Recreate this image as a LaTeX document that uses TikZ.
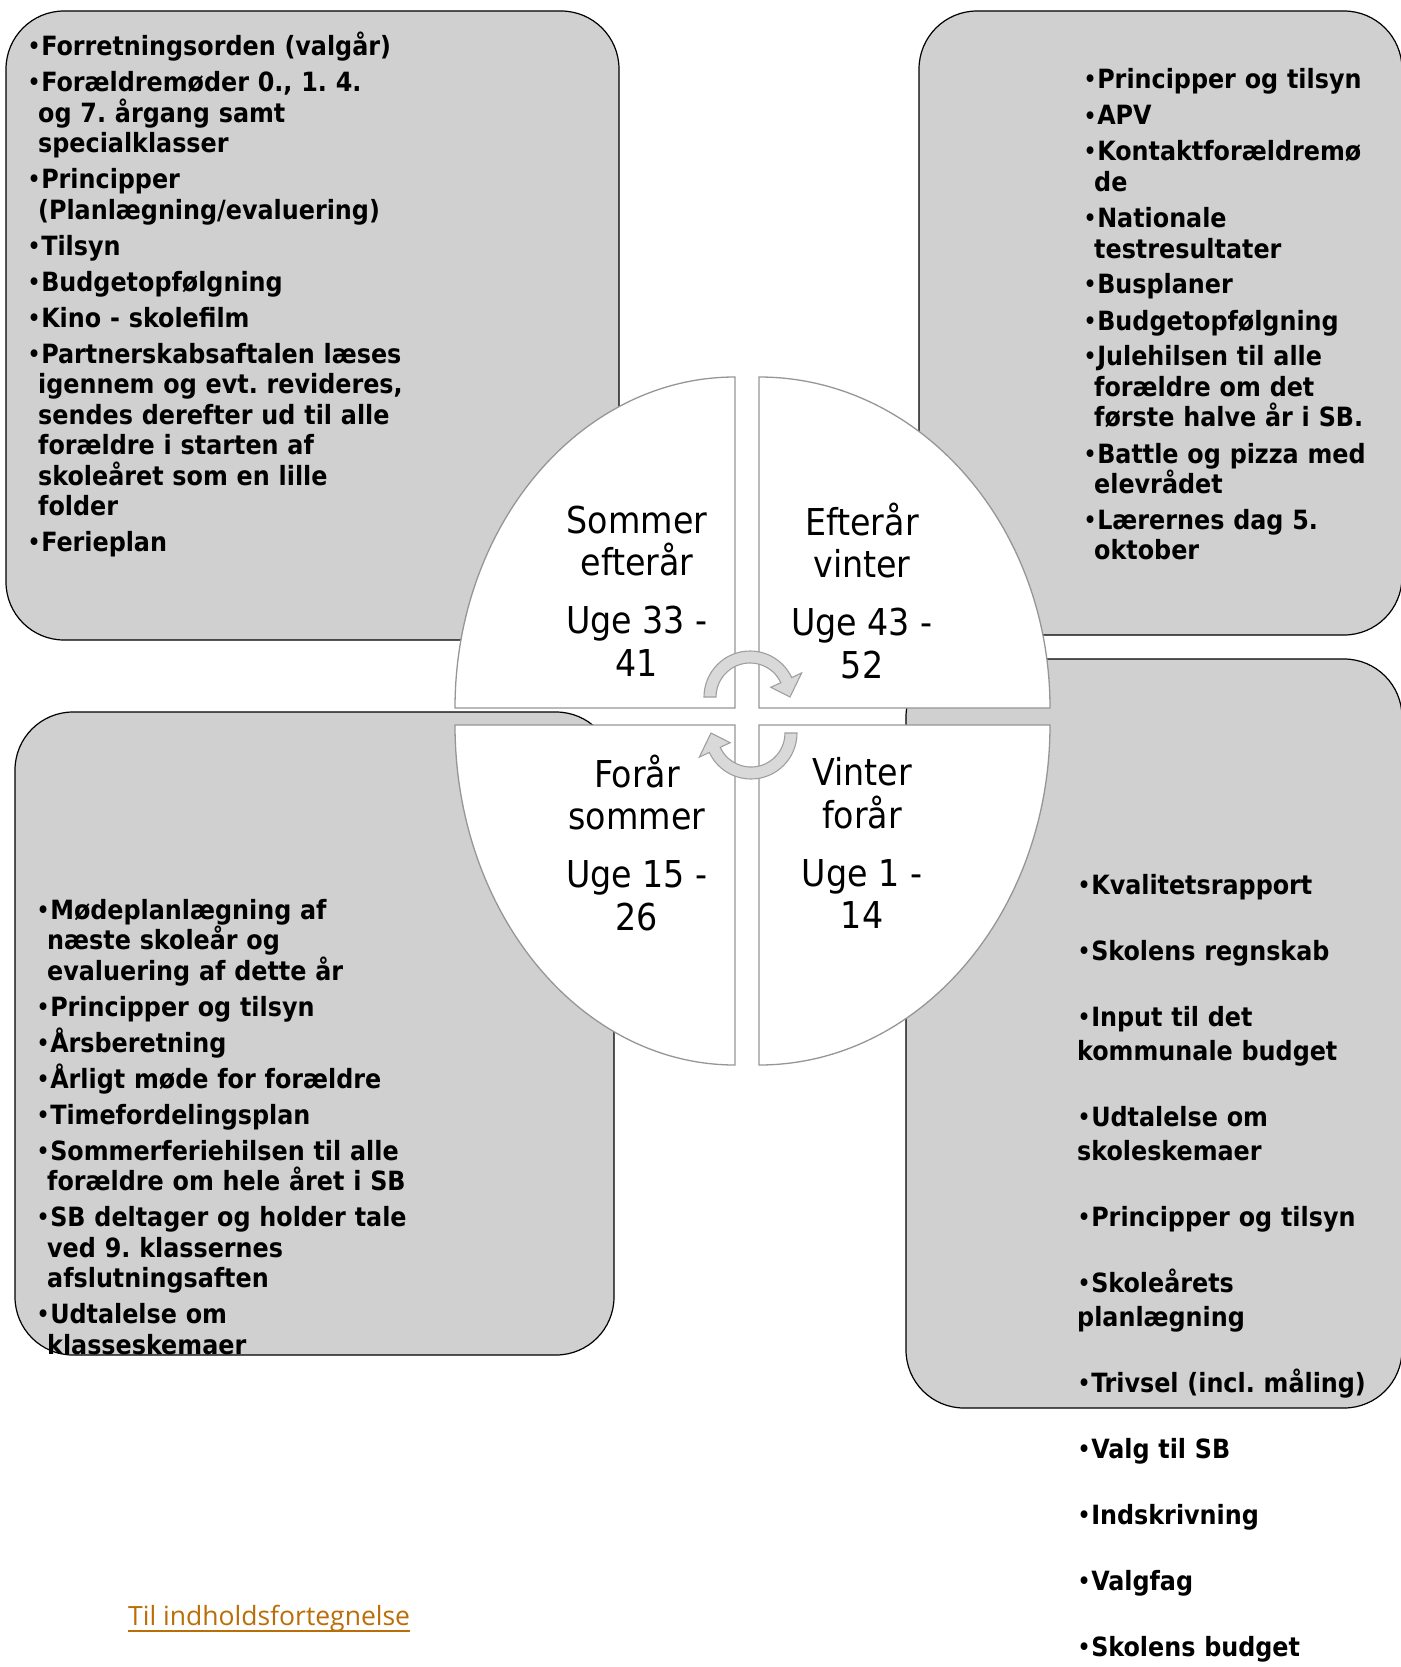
\documentclass[tikz,border=0pt]{standalone}
\usepackage{fontspec}
\setmainfont{DejaVu Sans Condensed}
\newfontfamily\linkfont{Open Sans}
\frenchspacing
\definecolor{boxgray}{RGB}{208,208,208}
\definecolor{quadline}{RGB}{150,150,150}
\definecolor{linkorange}{RGB}{186,110,8}
\newcommand{\listsetup}[1]{\setlength{\parskip}{#1}\let\\\newline}
\newcommand{\bitem}[1]{\hangindent=11pt\hangafter=1\noindent{\mdseries•}#1\par}
\newcommand{\flatitem}[1]{\noindent{\mdseries•}#1\par}
\tikzset{
  infobox/.style={draw=black, fill=boxgray, line width=1.2pt, rounded corners=58pt},
  quarter/.style={draw=quadline, fill=white, line width=1.3pt},
  cyclearrow/.style={draw=gray!75, fill=gray!30, line width=1.1pt},
  season/.style={inner sep=0pt, align=center, font=\fontsize{37}{42.5}\selectfont},
  tasklist/.style={inner sep=0pt, anchor=base west, text width=#1, font=\fontsize{26.5}{30.5}\selectfont\bfseries},
  linktext/.style={inner sep=0pt, anchor=base west, text=linkorange, font=\linkfont\fontsize{26.5}{31}\selectfont}
}
\begin{document}
\begin{tikzpicture}[x=1pt, y=-1pt]
\useasboundingbox (0,0) rectangle (1400,1667);
\draw[infobox] (6,11) rectangle (619,640);
\draw[infobox] (919,11) rectangle (1402,635);
\draw[infobox] (15,712) rectangle (614,1355);
\draw[infobox] (906,659) rectangle (1402,1408);
\draw[quarter] (735,708) -- (735,377) arc[start angle=270, end angle=180, x radius=280, y radius=331] -- cycle;
\draw[quarter] (759,708) -- (759,377) arc[start angle=270, end angle=360, x radius=291, y radius=331] -- cycle;
\draw[quarter] (735,725) -- (735,1065) arc[start angle=90, end angle=180, x radius=280, y radius=340] -- cycle;
\draw[quarter] (759,725) -- (759,1065) arc[start angle=90, end angle=0, x radius=291, y radius=340] -- cycle;
\begin{scope}[shift={(750,697)}, y=1pt]
\filldraw[cyclearrow] (180:46) arc[start angle=180, end angle=25, radius=46] -- (25:57) -- (0:40) -- (25:23) -- (25:34) arc[start angle=25, end angle=180, radius=34] -- cycle;
\end{scope}
\begin{scope}[shift={(751,733)}, rotate=180, y=1pt]
\filldraw[cyclearrow] (180:46) arc[start angle=180, end angle=25, radius=46] -- (25:57) -- (0:40) -- (25:23) -- (25:34) arc[start angle=25, end angle=180, radius=34] -- cycle;
\end{scope}
\node[season] (Q1) at (637,591) {Sommer\\efterår\\[15.5pt]Uge 33 -\\41};
\node[season] (Q2) at (862,591) {Efterår\\vinter\\[15.5pt]Uge 43 -\\52};
\node[season] (Q3) at (637,843) {Forår\\sommer\\[15.5pt]Uge 15 -\\26};
\node[season] (Q4) at (862,843) {Vinter\\forår\\[15.5pt]Uge 1 -\\14};
\node[tasklist=590pt] (L1) at (27,56) {\listsetup{5.5pt}%
\bitem{Forretningsorden (valgår)}
\bitem{Forældremøder 0., 1. 4.\\og 7. årgang samt\\specialklasser}
\bitem{Principper\\(Planlægning/evaluering)}
\bitem{Tilsyn}
\bitem{Budgetopfølgning}
\bitem{Kino - skolefilm}
\bitem{Partnerskabsaftalen læses\\igennem og evt. revideres,\\sendes derefter ud til alle\\forældre i starten af\\skoleåret som en lille\\folder}
\bitem{Ferieplan}};
\node[tasklist=400pt] (L2) at (1083,89) {\listsetup{5.5pt}%
\bitem{Principper og tilsyn}
\bitem{APV}
\bitem{Kontaktforældremø\\de}
\bitem{Nationale\\testresultater}
\bitem{Busplaner}
\bitem{Budgetopfølgning}
\bitem{Julehilsen til alle\\forældre om det\\første halve år i SB.}
\bitem{Battle og pizza med\\elevrådet}
\bitem{Lærernes dag 5.\\oktober}};
\node[tasklist=590pt] (L3) at (36,919) {\listsetup{5.5pt}%
\bitem{Mødeplanlægning af\\næste skoleår og\\evaluering af dette år}
\bitem{Principper og tilsyn}
\bitem{Årsberetning}
\bitem{Årligt møde for forældre}
\bitem{Timefordelingsplan}
\bitem{Sommerferiehilsen til alle\\forældre om hele året i SB}
\bitem{SB deltager og holder tale\\ved 9. klassernes\\afslutningsaften}
\bitem{Udtalelse om\\klasseskemaer}};
\node[tasklist=400pt, font=\fontsize{26.5}{34}\selectfont\bfseries] (L4) at (1077,894) {\listsetup{32pt}%
\flatitem{Kvalitetsrapport}
\flatitem{Skolens regnskab}
\flatitem{Input til det\\kommunale budget}
\flatitem{Udtalelse om\\skoleskemaer}
\flatitem{Principper og tilsyn}
\flatitem{Skoleårets\\planlægning}
\flatitem{Trivsel (incl. måling)}
\flatitem{Valg til SB}
\flatitem{Indskrivning}
\flatitem{Valgfag}
\flatitem{Skolens budget}};
\node[linktext] (T) at (128,1625) {Til indholdsfortegnelse};
\draw[linkorange, line width=2.2pt] (128,1631) -- (410,1631);
\end{tikzpicture}
\end{document}
